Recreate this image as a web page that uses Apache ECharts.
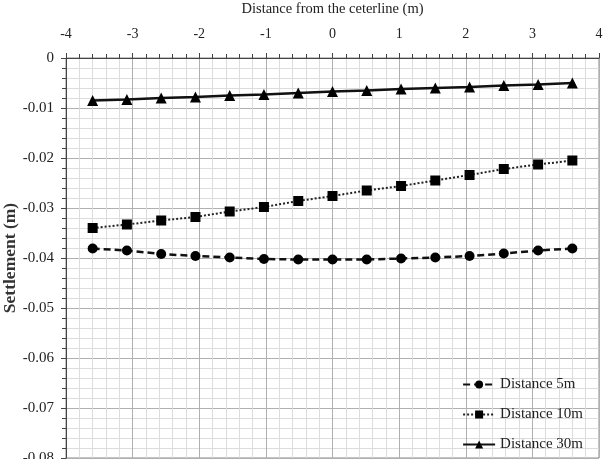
<!DOCTYPE html>
<html>
<head>
<meta charset="utf-8">
<script src="https://cdn.jsdelivr.net/npm/echarts@6/dist/echarts.min.js"></script>
<style>
  html, body { margin: 0; padding: 0; background: #fff; }
  #main { width: 610px; height: 459px; }
</style>
</head>
<body>
<div id="main"></div>
<script>
// distance from centerline (m)
const xs = [-3.6, -3.086, -2.571, -2.057, -1.543, -1.029, -0.514, 0, 0.514, 1.029, 1.543, 2.057, 2.571, 3.086, 3.6];
const dist5 = [-0.0381, -0.0385, -0.0392, -0.0396, -0.0399, -0.0402, -0.0403, -0.0403, -0.0403, -0.0401, -0.0399, -0.0396, -0.0391, -0.0385, -0.0381];
const dist10 = [-0.0340, -0.0333, -0.0325, -0.0318, -0.0307, -0.0298, -0.0286, -0.0276, -0.0265, -0.0256, -0.0245, -0.0234, -0.0222, -0.0213, -0.0205];
const dist30 = [-0.0085, -0.0083, -0.0080, -0.0078, -0.0075, -0.0073, -0.0070, -0.0067, -0.0065, -0.0062, -0.0060, -0.0058, -0.0055, -0.0053, -0.0050];
const seriesNames = ['Distance 5m', 'Distance 10m', 'Distance 30m'];

const font = 'Liberation Serif';
const pairs = arr => xs.map((x, i) => [x, arr[i]]);

const chart = echarts.init(document.getElementById('main'));

const option = {
    backgroundColor: '#fff',
    textStyle: { fontFamily: font, color: '#222' },
    grid: {
        left: 66, right: 11, top: 58, bottom: 1,
        outerBoundsMode: 'none',
        show: true, borderColor: '#888', borderWidth: 1
    },
    legend: {
        orient: 'vertical',
        right: 22, bottom: 2,
        itemWidth: 32, itemHeight: 10,
        itemGap: 15,
        textStyle: { fontFamily: font, fontSize: 15, color: '#222' },
        data: seriesNames
    },
    xAxis: {
        type: 'value',
        position: 'top',
        min: -4, max: 4, interval: 1,
        name: 'Distance from the ceterline (m)',
        nameLocation: 'middle',
        nameGap: 41,
        nameTextStyle: { fontFamily: font, fontSize: 14.5, color: '#222' },
        axisLine: { show: true, onZero: false, lineStyle: { color: '#444' } },
        axisTick: { show: true, length: 5, lineStyle: { color: '#444' } },
        minorTick: { show: true, splitNumber: 5, length: 4, lineStyle: { color: '#444' } },
        axisLabel: { fontFamily: font, fontSize: 14, color: '#222', margin: 17 },
        splitLine: { show: true, lineStyle: { color: '#b0b0b0' } },
        minorSplitLine: { show: true, lineStyle: { color: '#dcdcdc' } }
    },
    yAxis: {
        type: 'value',
        min: -0.08, max: 0, interval: 0.01,
        name: 'Settlement (m)',
        nameLocation: 'middle',
        nameGap: 47,
        nameMoveOverlap: false,
        nameTextStyle: { fontFamily: font, fontSize: 17.5, fontWeight: 'bold', color: '#333' },
        axisLine: { show: true, onZero: false, lineStyle: { color: '#444' } },
        axisTick: { show: true, length: 5, lineStyle: { color: '#444' } },
        minorTick: { show: true, splitNumber: 5, length: 4, lineStyle: { color: '#444' } },
        axisLabel: { fontFamily: font, fontSize: 15, color: '#222', margin: 12 },
        splitLine: { show: true, lineStyle: { color: '#b0b0b0' } },
        minorSplitLine: { show: true, lineStyle: { color: '#dcdcdc' } }
    },
    series: [
        {
            name: seriesNames[0],
            type: 'line',
            data: pairs(dist5),
            symbol: 'circle', symbolSize: 10,
            itemStyle: { color: '#000' },
            lineStyle: { color: '#111', width: 2.5, type: [7, 4] }
        },
        {
            name: seriesNames[1],
            type: 'line',
            data: pairs(dist10),
            symbol: 'rect', symbolSize: 10,
            itemStyle: { color: '#000' },
            lineStyle: { color: '#222', width: 2, type: [2, 2] }
        },
        {
            name: seriesNames[2],
            type: 'line',
            data: pairs(dist30),
            symbol: 'triangle', symbolSize: 11,
            itemStyle: { color: '#000' },
            lineStyle: { color: '#111', width: 2.5 }
        }
    ]
};

chart.setOption(option);
</script>
</body>
</html>
